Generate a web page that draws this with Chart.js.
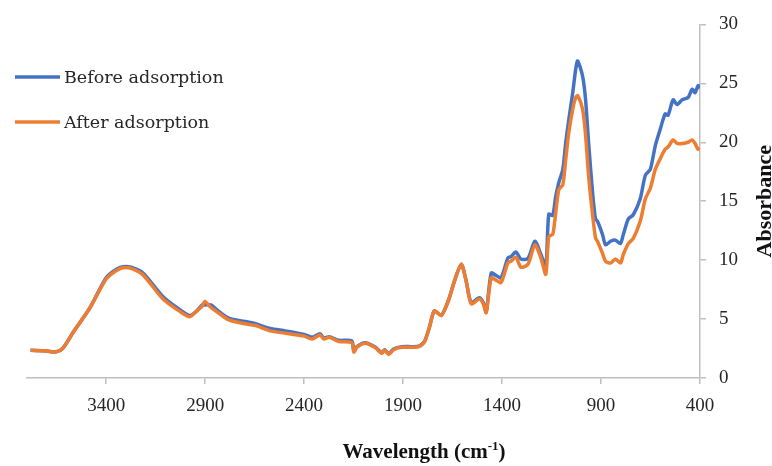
<!DOCTYPE html>
<html>
<head>
<meta charset="utf-8">
<script src="https://cdn.jsdelivr.net/npm/chart.js@4.4.0/dist/chart.umd.min.js"></script>
<style>
  html, body { margin: 0; padding: 0; background: #ffffff; }
  #wrap { width: 772px; height: 466px; position: relative; }
</style>
</head>
<body>
<div id="wrap"><canvas id="ftirChart" width="772" height="466"></canvas></div>
<script>
// Wavenumber (cm-1)
const wavenumbers = [3782, 3700, 3656, 3620, 3566, 3484, 3400, 3350, 3315, 3274, 3214, 3113, 3028, 2978, 2948, 2915, 2902, 2872, 2827, 2777, 2700, 2646, 2571, 2495, 2400, 2360, 2320, 2300, 2274, 2224, 2159, 2149, 2134, 2093, 2043, 2008, 1993, 1973, 1948, 1908, 1822, 1792, 1767, 1742, 1707, 1671, 1641, 1606, 1581, 1556, 1515, 1495, 1480, 1455, 1430, 1405, 1370, 1355, 1330, 1305, 1269, 1234, 1204, 1179, 1164, 1144, 1129, 1113, 1093, 1078, 1063, 1043, 1028, 1018, 993, 978, 963, 943, 928, 918, 893, 877, 852, 827, 802, 787, 762, 737, 702, 676, 651, 626, 601, 576, 561, 536, 516, 490, 460, 440, 425, 410, 400];

const beforeValues = [2.35, 2.3, 2.2, 2.5, 3.9, 5.9, 8.5, 9.2, 9.45, 9.4, 8.9, 6.9, 5.8, 5.3, 5.6, 6.2, 6.2, 6.2, 5.6, 5.05, 4.8, 4.6, 4.2, 4.0, 3.7, 3.45, 3.75, 3.4, 3.5, 3.2, 3.15, 2.3, 2.65, 3.0, 2.65, 2.15, 2.4, 2.05, 2.45, 2.65, 2.7, 3.1, 4.3, 5.7, 5.3, 6.6, 8.2, 9.65, 8.2, 6.4, 6.8, 6.4, 5.6, 8.9, 8.7, 8.5, 10.2, 10.3, 10.7, 10.1, 10.15, 11.6, 10.5, 9.5, 13.9, 13.8, 15.4, 16.6, 17.7, 20.0, 21.9, 24.2, 26.2, 26.9, 25.6, 23.6, 20.0, 15.8, 13.5, 13.3, 12.2, 11.3, 11.6, 11.7, 11.4, 12.2, 13.5, 13.85, 15.2, 17.2, 17.7, 19.7, 21.1, 22.4, 22.3, 23.6, 23.2, 23.6, 23.8, 24.5, 24.2, 24.8, 24.6];

const afterValues = [2.35, 2.3, 2.2, 2.5, 3.9, 5.9, 8.4, 9.1, 9.35, 9.3, 8.75, 6.7, 5.65, 5.2, 5.6, 6.1, 6.5, 6.0, 5.45, 4.9, 4.6, 4.45, 4.0, 3.8, 3.55, 3.3, 3.65, 3.3, 3.45, 3.1, 3.0, 2.2, 2.6, 2.95, 2.6, 2.1, 2.35, 2.0, 2.4, 2.6, 2.65, 3.05, 4.3, 5.7, 5.3, 6.55, 8.2, 9.65, 8.2, 6.3, 6.7, 6.3, 5.55, 8.5, 8.3, 8.1, 9.8, 9.9, 10.25, 9.4, 9.65, 11.3, 10.2, 8.8, 12.0, 12.2, 14.0, 16.0, 16.4, 18.6, 20.8, 22.8, 23.8, 23.95, 22.8, 20.6, 17.2, 13.9, 11.9, 11.6, 10.6, 9.9, 9.75, 10.1, 9.75, 10.5, 11.4, 11.85, 13.3, 15.2, 16.1, 17.7, 18.6, 19.4, 19.6, 20.2, 19.9, 19.9, 20.0, 20.2, 19.9, 19.4, 19.5];

const xTicks = [400, 900, 1400, 1900, 2400, 2900, 3400];
const seriesNames = ['Before adsorption', 'After adsorption'];
const seriesColors = ['#4472C4', '#ED7D31'];

const axisGray = '#bfbfbf';
const textColor = '#262626';

function toPoints(values) {
    return wavenumbers.map((w, i) => ({ x: w, y: values[i] }));
}

// Legend drawn in the top-left of the plot, two rows
const legendInPlot = {
    id: 'legendInPlot',
    afterDraw(chart) {
        const ctx = chart.ctx;
        const rows = [77, 122];
        ctx.save();
        chart.data.datasets.forEach((ds, i) => {
            const y = rows[i];
            ctx.strokeStyle = ds.borderColor;
            ctx.lineWidth = 3.5;
            ctx.beginPath();
            ctx.moveTo(15, y);
            ctx.lineTo(60, y);
            ctx.stroke();
            ctx.fillStyle = textColor;
            ctx.font = '17.5px "DejaVu Serif"';
            ctx.textAlign = 'left';
            ctx.textBaseline = 'middle';
            ctx.fillText(ds.label, 64, y + 1);
        });
        ctx.restore();
    }
};

// Axis titles (x title sits right of centre, y title on the far right)
const axisTitles = {
    id: 'axisTitles',
    afterDraw(chart) {
        const ctx = chart.ctx;
        ctx.save();
        ctx.fillStyle = '#111111';
        ctx.textBaseline = 'alphabetic';
        ctx.font = 'bold 21px "Liberation Serif"';
        const main = 'Wavelength (cm';
        const sup = '-1';
        const tail = ')';
        const wMain = ctx.measureText(main).width;
        const wTail = ctx.measureText(tail).width;
        ctx.font = 'bold 13px "Liberation Serif"';
        const wSup = ctx.measureText(sup).width;
        let x = 424 - (wMain + wSup + wTail) / 2;
        ctx.textAlign = 'left';
        ctx.font = 'bold 21px "Liberation Serif"';
        ctx.fillText(main, x, 458);
        ctx.font = 'bold 13px "Liberation Serif"';
        ctx.fillText(sup, x + wMain, 450);
        ctx.font = 'bold 21px "Liberation Serif"';
        ctx.fillText(tail, x + wMain + wSup, 458);

        const area = chart.chartArea;
        ctx.translate(771, (area.top + area.bottom) / 2);
        ctx.rotate(-Math.PI / 2);
        ctx.textAlign = 'center';
        ctx.font = 'bold 22px "Liberation Serif"';
        ctx.fillText('Absorbance', 0, 0);
        ctx.restore();
    }
};

const ctx = document.getElementById('ftirChart').getContext('2d');

new Chart(ctx, {
    type: 'line',
    data: {
        datasets: [
            {
                label: seriesNames[0],
                data: toPoints(beforeValues),
                borderColor: seriesColors[0],
                borderWidth: 3.5,
                pointRadius: 0,
                tension: 0.25,
                fill: false,
                order: 1
            },
            {
                label: seriesNames[1],
                data: toPoints(afterValues),
                borderColor: seriesColors[1],
                borderWidth: 3.5,
                pointRadius: 0,
                tension: 0.25,
                fill: false,
                order: 0
            }
        ]
    },
    options: {
        responsive: false,
        animation: false,
        maintainAspectRatio: false,
        layout: { padding: { left: 27, top: 21, right: 0, bottom: 0 } },
        scales: {
            x: {
                type: 'linear',
                reverse: true,
                min: 400,
                max: 3800,
                afterBuildTicks: scale => { scale.ticks = xTicks.map(v => ({ value: v })); },
                afterFit: scale => { scale.height = 88; },
                border: { display: true, color: axisGray, width: 1.5 },
                grid: { drawOnChartArea: false, drawTicks: true, tickLength: 6, color: axisGray, lineWidth: 1.5 },
                ticks: {
                    color: textColor,
                    padding: 11,
                    maxRotation: 0,
                    callback: v => String(v),
                    font: { family: '"Liberation Serif"', size: 19 }
                }
            },
            y: {
                position: 'right',
                min: 0,
                max: 30,
                afterFit: scale => { scale.width = 72; },
                border: { display: true, color: axisGray, width: 1.5 },
                grid: { drawOnChartArea: false, drawTicks: true, tickLength: 6, color: axisGray, lineWidth: 1.5 },
                ticks: {
                    stepSize: 5,
                    color: textColor,
                    padding: 13,
                    callback: v => String(v),
                    font: { family: '"Liberation Serif"', size: 19 }
                }
            }
        },
        plugins: {
            legend: { display: false },
            tooltip: { enabled: false }
        }
    },
    plugins: [legendInPlot, axisTitles]
});
</script>
</body>
</html>
